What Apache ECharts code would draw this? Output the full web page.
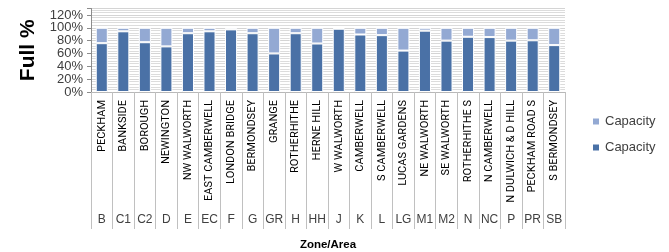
<!DOCTYPE html>
<html><head><meta charset="utf-8">
<script src="https://cdn.jsdelivr.net/npm/echarts@6/dist/echarts.min.js"></script>
<style>html,body{margin:0;padding:0;background:#fff}#c{width:669px;height:252px}</style>
</head><body><div id="c"></div>
<script>
const areas = ['PECKHAM','BANKSIDE','BOROUGH','NEWINGTON','NW WALWORTH','EAST CAMBERWELL','LONDON BRIDGE','BERMONDSEY','GRANGE','ROTHERHITHE','HERNE HILL','W WALWORTH','CAMBERWELL','S CAMBERWELL','LUCAS GARDENS','NE WALWORTH','SE WALWORTH','ROTHERHITHE S','N CAMBERWELL','N DULWICH & D HILL','PECKHAM ROAD S','S BERMONDSEY'];
const zones = ['B','C1','C2','D','E','EC','F','G','GR','H','HH','J','K','L','LG','M1','M2','N','NC','P','PR','SB'];
const occupied = [76, 94.5, 77.5, 71, 91.5, 94.5, 97.5, 91.5, 60, 91.5, 75.5, 98.5, 89.5, 88.5, 64.5, 95.5, 80, 86, 85.5, 80, 80.5, 73];
const spare = [24, 5.5, 22.5, 29, 8.5, 5.5, 2.5, 8.5, 40, 8.5, 24.5, 1.5, 10.5, 11.5, 35.5, 4.5, 20, 14, 14.5, 20, 19.5, 27];
const yTicks = [0, 20, 40, 60, 80, 100, 120];

const SANS = "'Liberation Sans',Arial,sans-serif";
const chart = echarts.init(document.getElementById('c'), null, {renderer:'canvas'});
chart.setOption({
  animation: false,
  textStyle: {fontFamily: SANS},
  grid: {left: 91, right: 104, top: 8.5, bottom: 157, containLabel: false},
  legend: {
    orient: 'vertical', left: 586, top: 110, itemWidth: 8, itemHeight: 8, itemGap: 13,
    icon: 'rect',
    data: ['Capacity', 'Capacity '],
    textStyle: {fontSize: 13, color: '#404040', fontFamily: SANS}
  },
  xAxis: [{
    type: 'category', data: areas, position: 'bottom',
    axisLine: {lineStyle: {color: '#b8b8b8'}},
    axisTick: {show: true, interval: 0, length: 137, lineStyle: {color: '#c0c0c0'}},
    axisLabel: {interval: 0, rotate: 90, margin: 8, fontSize: 11, color: '#000', fontFamily: "Roboto,'Liberation Sans',sans-serif"}
  }, {
    type: 'category', data: zones, position: 'bottom',
    axisLine: {show: false}, axisTick: {show: false},
    axisLabel: {interval: 0, margin: 122, fontSize: 12, color: '#404040', fontFamily: SANS},
    name: 'Zone/Area', nameLocation: 'middle', nameGap: 147,
    nameTextStyle: {fontSize: 11.5, fontWeight: 'bold', color: '#000', fontFamily: SANS}
  }],
  yAxis: {
    type: 'value', min: 0, max: 130, interval: 20,
    name: 'Full %', nameLocation: 'middle', nameRotate: 90, nameGap: 52,
    nameTextStyle: {fontSize: 21, fontWeight: 'bold', color: '#000', fontFamily: SANS},
    axisLine: {show: true, lineStyle: {color: '#8c8c8c'}},
    axisTick: {show: true, length: 4, lineStyle: {color: '#8c8c8c'}},
    axisLabel: {margin: 8, fontSize: 13, color: '#404040', fontFamily: SANS,
      formatter: v => yTicks.indexOf(v) >= 0 ? v + '%' : ''},
    splitLine: {show: true, lineStyle: {color: '#d4d4d4'}},
    minorTick: {show: false, splitNumber: 5},
    minorSplitLine: {show: true, lineStyle: {color: '#dcdcdc'}}
  },
  series: [{
    name: 'Capacity ', type: 'bar', stack: 's', data: occupied, barWidth: '56%',
    itemStyle: {color: '#4a71a6', borderColor: '#fff', borderWidth: 1}
  }, {
    name: 'Capacity', type: 'bar', stack: 's', data: spare, barWidth: '56%',
    itemStyle: {color: '#93a9d3', borderColor: '#fff', borderWidth: 1}
  }]
});
</script></body></html>
